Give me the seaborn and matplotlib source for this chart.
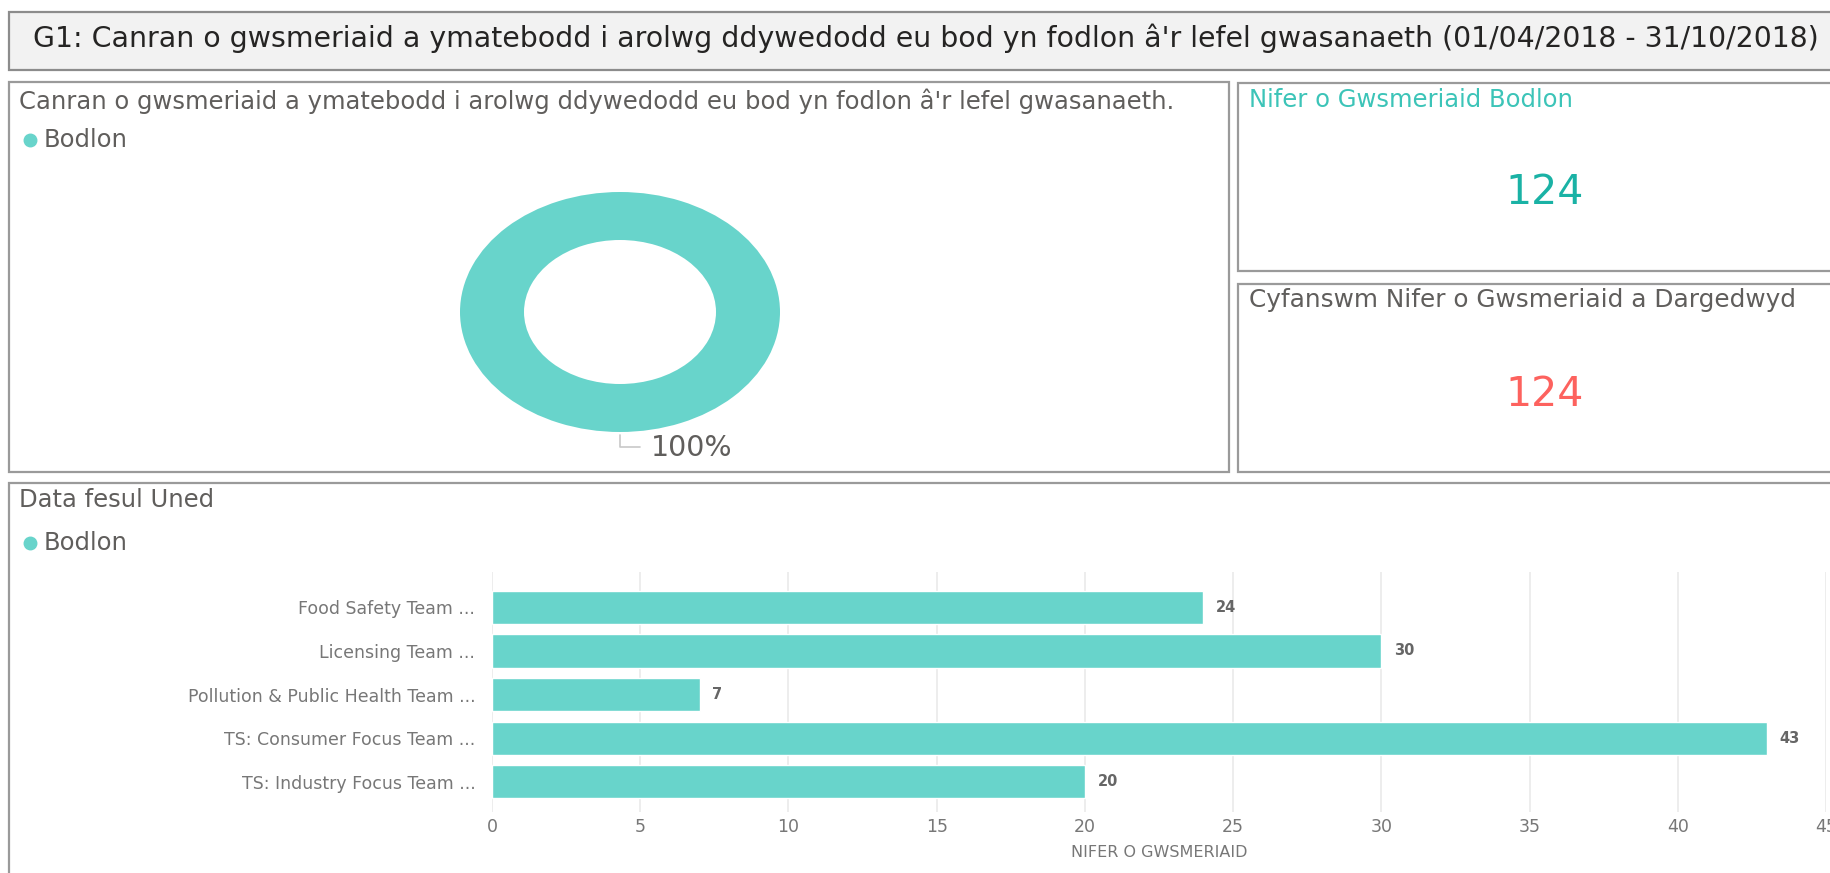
from matplotlib import pyplot as plt
from matplotlib.patches import Rectangle
import pandas as pd
import seaborn as sns

# data
teams = ['Food Safety Team ...', 'Licensing Team ...',
         'Pollution & Public Health Team ...', 'TS: Consumer Focus Team ...',
         'TS: Industry Focus Team ...']
bodlon = [24, 30, 7, 43, 20]
total_bodlon = 124
total_dargedwyd = 124
x_ticks = [0, 5, 10, 15, 20, 25, 30, 35, 40, 45]

title = ("G1: Canran o gwsmeriaid a ymatebodd i arolwg ddywedodd eu bod yn "
         "fodlon â'r lefel gwasanaeth (01/04/2018 - 31/10/2018)")
donut_title = ("Canran o gwsmeriaid a ymatebodd i arolwg ddywedodd eu bod yn "
               "fodlon â'r lefel gwasanaeth.")

TEAL = '#68D4CB'
GREY = '#605E5C'
W, H = 1831, 873
FS = 17.5

sns.set_style("white")
plt.rcParams['font.family'] = ['DejaVu Sans']

fig = plt.figure(figsize=(W / 100, H / 100), dpi=100)


def fx(x):
    return x / W


def fy(y):
    return 1 - y / H


def box(x0, y0, x1, y1, face='white', edge='#9a9a9a', lw=1.6):
    fig.patches.append(Rectangle((fx(x0), fy(y1)), fx(x1 - x0),
                                 (y1 - y0) / H, transform=fig.transFigure,
                                 facecolor=face, edgecolor=edge, lw=lw,
                                 zorder=-5))


def legend_dot(x, y):
    fig.add_artist(plt.Line2D([fx(x)], [fy(y)], marker='o', markersize=9,
                              color=TEAL, transform=fig.transFigure))


# boxes
box(9, 12, 1845, 70, face='#f2f2f2', edge='#8c8c8c')
box(9, 82, 1229, 472)
box(1238, 83, 1845, 271)
box(1238, 284, 1845, 472)
box(9, 483, 1845, 890)

fig.text(fx(33), fy(38), title, fontsize=20.4, color='#252423', va='center')

# donut panel
fig.text(fx(19), fy(101), donut_title, fontsize=FS, color=GREY,
         va='center')
legend_dot(30, 140)
fig.text(fx(44), fy(140), 'Bodlon', fontsize=FS, color=GREY, va='center')

ax_d = fig.add_axes([fx(460), fy(432), fx(320), 240 / H])
ax_d.pie([total_bodlon], colors=[TEAL], startangle=90, counterclock=False,
         wedgeprops=dict(width=0.4, edgecolor='none'))
ax_d.set_aspect('auto')
ax_d.set_xlim(-1, 1)
ax_d.set_ylim(-1, 1)
ax_d.axis('off')
ax_d.plot([0, 0, 0.125], [-1.025, -1.125, -1.125], color='#c8c8c8',
          lw=1.2, clip_on=False)
pct = round(100 * total_bodlon / total_bodlon)
ax_d.text(0.19, -1.13, f'{pct}%', fontsize=20.5, color=GREY,
          fontweight='medium', va='center', ha='left', clip_on=False)

# cards
fig.text(fx(1249), fy(100), 'Nifer o Gwsmeriaid Bodlon', fontsize=FS,
         color='#3cc4b8', va='center')
fig.text(fx(1545), fy(193), str(total_bodlon), fontsize=29.5,
         color='#1AB2A5', va='center', ha='center')
fig.text(fx(1249), fy(300), 'Cyfanswm Nifer o Gwsmeriaid a Dargedwyd',
         fontsize=FS + 0.3, color=GREY, va='center')
fig.text(fx(1545), fy(395), str(total_dargedwyd), fontsize=29.5,
         color='#FD625E', va='center', ha='center')

# bar panel
fig.text(fx(19), fy(500), 'Data fesul Uned', fontsize=FS, color=GREY,
         va='center')
legend_dot(30, 543)
fig.text(fx(44), fy(543), 'Bodlon', fontsize=FS, color=GREY, va='center')

df = pd.DataFrame({'team': teams, 'bodlon': bodlon})
ax = fig.add_axes([fx(492), fy(812), fx(1826 - 492), (812 - 572) / H])
ax.patch.set_visible(False)
sns.barplot(data=df, x='bodlon', y='team', color=TEAL, saturation=1,
            orient='h', width=0.76, ax=ax)
ax.bar_label(ax.containers[0], padding=9, fontsize=10.5, color='#666666',
             fontweight='semibold')
ax.set_xlim(0, 45)
ax.set_ylim(4.69, -0.81)
ax.set_xticks(x_ticks)
ax.grid(axis='x', color='#eaeaea', lw=1.2)
ax.set_axisbelow(True)
for s in ax.spines.values():
    s.set_visible(False)
ax.tick_params(axis='both', length=0, labelcolor='#777777')
ax.tick_params(axis='y', labelsize=12.5, pad=12)
ax.tick_params(axis='x', labelsize=12.5, pad=4)
ax.set_ylabel('')
ax.set_xlabel('NIFER O GWSMERIAID', fontsize=11.5, color='#777777',
              labelpad=7)

fig.savefig('out.png', dpi=100)
